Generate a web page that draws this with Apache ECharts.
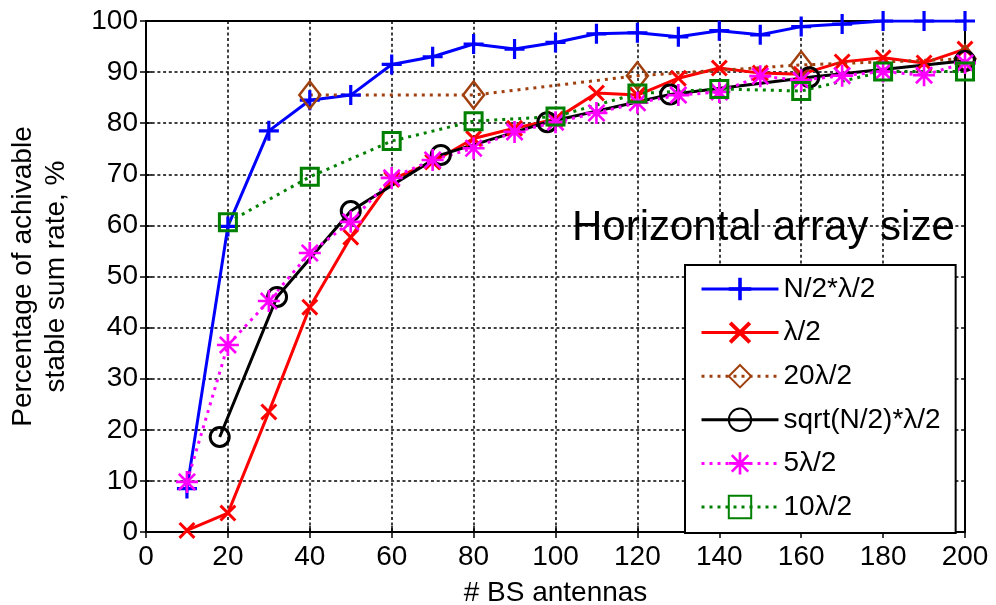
<!DOCTYPE html>
<html>
<head>
<meta charset="utf-8">
<script src="https://cdn.jsdelivr.net/npm/echarts@6/dist/echarts.min.js"></script>
<style>
  html, body { margin: 0; padding: 0; background: #fff; }
  #main { width: 996px; height: 605px; }
</style>
</head>
<body>
<div id="main"></div>
<script>
// x positions
var antStep10 = [10, 20, 30, 40, 50, 60, 70, 80, 90, 100, 110, 120, 130, 140, 150, 160, 170, 180, 190, 200];
var antStep20 = [20, 40, 60, 80, 100, 120, 140, 160, 180, 200];
var antStep40 = [40, 80, 120, 160, 200];
var antSqrt = [18, 32, 50, 72, 98, 128, 162, 200];

// percentage values
var halfNLambda = [8.5, 59.8, 78.5, 84.5, 85.5, 91.5, 93, 95.5, 94.5, 95.8, 97.5, 97.7, 96.9, 98.1, 97.3, 98.9, 99.4, 100, 100, 100];
var lambdaHalf = [0.3, 3.7, 23.5, 44, 57.7, 69, 72.4, 77, 79, 80.8, 85.9, 85.5, 88.8, 90.8, 89.8, 89.6, 92, 92.8, 91.8, 94.5];
var lambda20 = [85.5, 85.5, 89.3, 91.4, 92.6];
var sqrtLambda = [18.6, 46, 62.8, 73.8, 80.2, 85.6, 89, 92.2];
var lambda5 = [9.8, 36.6, 45.2, 54.6, 60.7, 69.3, 72.8, 75.1, 78.3, 80.2, 82, 84, 85.5, 86.1, 89.2, 88.4, 89.3, 90.1, 89.4, 91.8];
var lambda10 = [60.6, 69.5, 76.5, 80.4, 81.3, 85.8, 86.7, 86.3, 90.1, 90.1];

var seriesNames = ['N/2*\u03bb/2', '\u03bb/2', '20\u03bb/2', 'sqrt(N/2)*\u03bb/2', '5\u03bb/2', '10\u03bb/2'];

function pairs(xs, ys) {
  return xs.map(function (x, i) { return [x, ys[i]]; });
}

var plusPath = 'path://M8.4,0H11.6V20H8.4Z M0,8.4H20V11.6H0Z';
var crossPath = 'path://M2.5,0L10,7.5L17.5,0L20,2.5L12.5,10L20,17.5L17.5,20L10,12.5L2.5,20L0,17.5L7.5,10L0,2.5Z';
var starPath = 'path://M8.8,0H11.2V20H8.8Z M0,8.8H20V11.2H0Z ' +
  'M3.5,1.8L10,8.3L16.5,1.8L18.2,3.5L11.7,10L18.2,16.5L16.5,18.2L10,11.7L3.5,18.2L1.8,16.5L8.3,10L1.8,3.5Z';

var font = 'Liberation Sans, Arial, sans-serif';
var dots = [3, 5];
var tickStyle = { inside: true, length: 6, lineStyle: { color: '#000', width: 1.5 } };
var gridDots = { show: true, lineStyle: { color: '#000', type: [3, 2.7], width: 1.5 } };

var myChart = echarts.init(document.getElementById('main'));
myChart.setOption({
  animation: false,
  backgroundColor: '#fff',
  grid: {
    left: 146, right: 31, top: 21, bottom: 73,
    outerBoundsMode: 'none', containLabel: false,
    show: true, borderColor: '#000', borderWidth: 2
  },
  graphic: [{
    type: 'text', left: 572, top: 207, z: 10,
    style: { text: 'Horizontal array size', fontSize: 42, fontFamily: font, fill: '#000' }
  }],
  legend: {
    orient: 'vertical',
    left: 685, top: 265,
    padding: [10, 15, 12, 15],
    itemWidth: 77, itemHeight: 28, itemGap: 15.6,
    backgroundColor: '#fff',
    borderColor: '#000', borderWidth: 2, borderRadius: 0,
    lineStyle: { width: 3 },
    textStyle: { fontSize: 28, fontFamily: font, color: '#000', lineHeight: 28 },
    data: seriesNames
  },
  xAxis: [{
    type: 'value', min: 0, max: 200, interval: 20,
    name: '# BS antennas', nameLocation: 'middle', nameGap: 47,
    nameTextStyle: { fontSize: 28, fontFamily: font, color: '#000' },
    axisLine: { show: false },
    axisTick: tickStyle,
    axisLabel: { fontSize: 28, fontFamily: font, color: '#000', margin: 11 },
    splitLine: gridDots
  }, {
    type: 'value', min: 0, max: 200, interval: 20, position: 'top',
    axisLine: { show: false }, axisTick: tickStyle,
    axisLabel: { show: false }, splitLine: { show: false }
  }],
  yAxis: [{
    type: 'value', min: 0, max: 100, interval: 10,
    name: 'Percentage of achivable\nstable sum rate, %', nameLocation: 'middle', nameGap: 73,
    nameRotate: 90,
    nameTextStyle: { fontSize: 28, fontFamily: font, color: '#000', lineHeight: 33 },
    axisLine: { show: false },
    axisTick: tickStyle,
    axisLabel: { fontSize: 28, fontFamily: font, color: '#000', margin: 8 },
    splitLine: gridDots
  }, {
    type: 'value', min: 0, max: 100, interval: 10, position: 'right',
    axisLine: { show: false }, axisTick: tickStyle,
    axisLabel: { show: false }, splitLine: { show: false }
  }],
  series: [
    {
      name: seriesNames[0], type: 'line', data: pairs(antStep10, halfNLambda),
      symbol: plusPath, symbolSize: 20, showAllSymbol: true,
      itemStyle: { color: '#0000ff' },
      lineStyle: { color: '#0000ff', width: 3 }
    },
    {
      name: seriesNames[1], type: 'line', data: pairs(antStep10, lambdaHalf),
      symbol: crossPath, symbolSize: 17, showAllSymbol: true,
      itemStyle: { color: '#ff0000' },
      lineStyle: { color: '#ff0000', width: 3 }
    },
    {
      name: seriesNames[2], type: 'line', data: pairs(antStep40, lambda20),
      symbol: 'diamond', symbolSize: [21, 27], showAllSymbol: true,
      itemStyle: { color: 'rgba(0,0,0,0)', borderColor: '#a0400f', borderWidth: 2.5 },
      lineStyle: { color: '#a0400f', width: 3, type: dots }
    },
    {
      name: seriesNames[3], type: 'line', data: pairs(antSqrt, sqrtLambda),
      symbol: 'circle', symbolSize: 19, showAllSymbol: true,
      itemStyle: { color: 'rgba(0,0,0,0)', borderColor: '#000', borderWidth: 3 },
      lineStyle: { color: '#000', width: 3 }
    },
    {
      name: seriesNames[4], type: 'line', data: pairs(antStep10, lambda5),
      symbol: starPath, symbolSize: 22, showAllSymbol: true,
      itemStyle: { color: '#ff00ff' },
      lineStyle: { color: '#ff00ff', width: 3, type: dots }
    },
    {
      name: seriesNames[5], type: 'line', data: pairs(antStep20, lambda10),
      symbol: 'rect', symbolSize: 17, showAllSymbol: true,
      itemStyle: { color: 'rgba(0,0,0,0)', borderColor: '#008000', borderWidth: 3 },
      lineStyle: { color: '#008000', width: 3, type: dots }
    }
  ]
});
</script>
</body>
</html>
